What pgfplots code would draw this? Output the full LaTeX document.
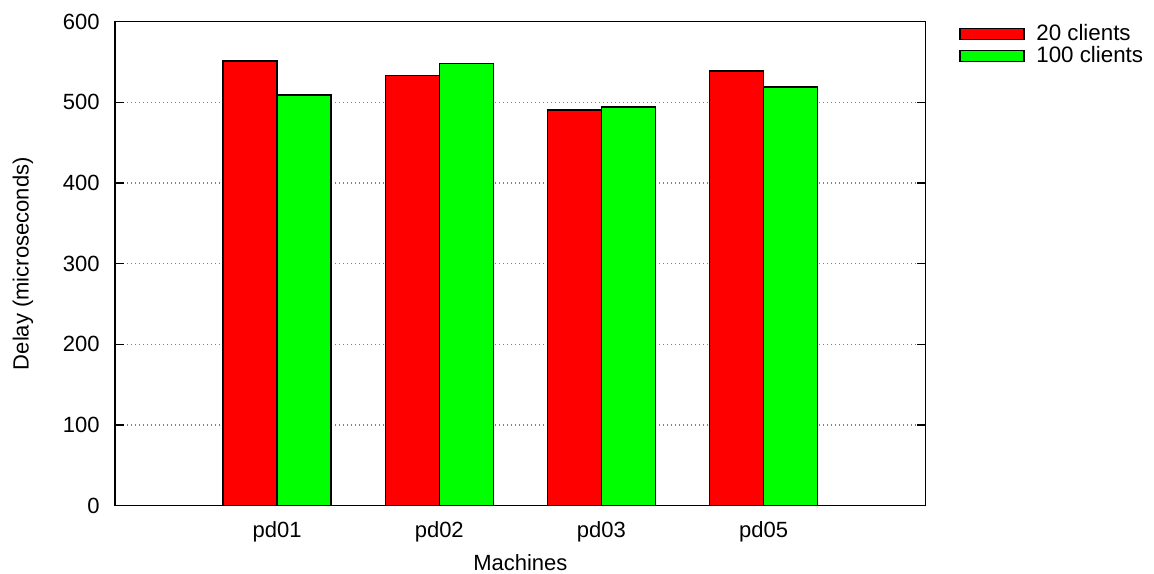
\documentclass[border=0pt]{standalone}
\usepackage{fontspec}
\setmainfont{Liberation Sans}
\usepackage{pgfplots}
\pgfplotsset{compat=1.18}
\definecolor{gpred}{HTML}{FF0000}
\definecolor{gpgreen}{HTML}{00FF00}
\begin{document}
\fontsize{13.2}{15.8}\selectfont
\begin{tikzpicture}
\useasboundingbox (-69pt,-41pt) rectangle (623.4pt,303.4pt);
\begin{axis}[scale only axis, width=486.4pt, height=290.4pt,
  xmin=0, xmax=5, ymin=0, ymax=600,
  xtick={1,2,3,4}, xticklabels={pd01,pd02,pd03,pd05},
  ytick={0,100,...,600},
  ybar=0pt, bar width=0.333,
  tick align=inside, major tick length=5.4pt,
  xtick style={draw=none}, ytick pos=both,
  ymajorgrids, grid style={gray, dotted, line width=0.7pt},
  axis line style={line width=0.8pt}, every tick/.style={black, line width=0.8pt},
  /pgf/number format/assume math mode=true,
  tick label style={font=\fontsize{13.2}{15.8}\selectfont},
  label style={font=\fontsize{13.2}{15.8}\selectfont},
  yticklabel style={xshift=-4.6pt},
  xticklabel style={yshift=-5pt},
  xlabel={Machines}, ylabel={Delay (microseconds)},
  xlabel style={at={(axis description cs:0.5,-0.118)}, anchor=center},
  ylabel style={at={(axis description cs:-0.1135,0.5)}, anchor=center},
  legend style={draw=none, fill=none, at={(1.0411,1.002)}, anchor=north west,
    inner sep=0pt, row sep=-2.5pt, cells={anchor=west},
    /tikz/every odd column/.append style={column sep=5pt},
    font=\fontsize{13.4}{15.8}\selectfont},
  legend image code/.code={\draw[#1, draw=black, line width=0.8pt] (0pt,-3.3pt) rectangle (38.4pt,3.3pt);},
]
\addplot[fill=gpred, draw=black, line width=0.8pt] coordinates {(1,551.4) (2,533.3) (3,490.3) (4,539)};
\addlegendentry{20 clients}
\addplot[fill=gpgreen, draw=black, line width=0.8pt] coordinates {(1,508.9) (2,548.2) (3,494.4) (4,519.2)};
\addlegendentry{100 clients}
\end{axis}
\end{tikzpicture}
\end{document}
